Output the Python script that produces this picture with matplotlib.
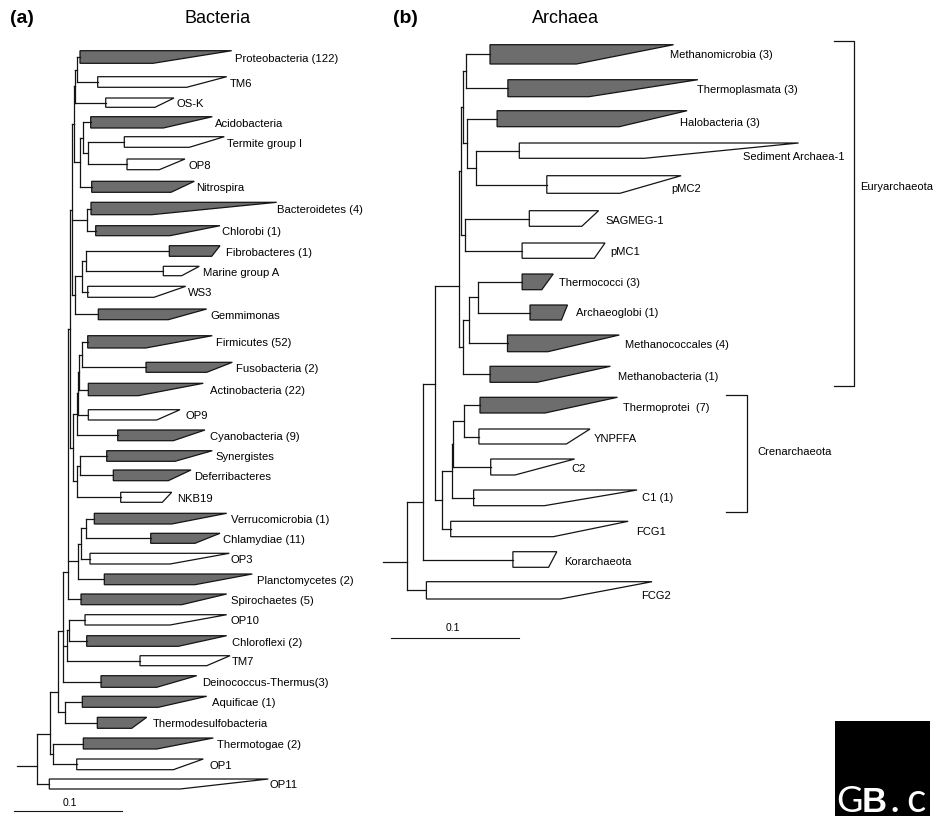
import matplotlib
matplotlib.use("Agg")
import matplotlib.pyplot as plt
from matplotlib.patches import Polygon, Rectangle
from matplotlib.collections import LineCollection

plt.rcParams['font.family'] = ['Liberation Sans', 'DejaVu Sans']

# ---------------- Bacteria data ----------------
bac_names = ["Proteobacteria (122)", "TM6", "OS-K", "Acidobacteria", "Termite group I", "OP8",
             "Nitrospira", "Bacteroidetes (4)", "Chlorobi (1)", "Fibrobacteres (1)", "Marine group A",
             "WS3", "Gemmimonas", "Firmicutes (52)", "Fusobacteria (2)", "Actinobacteria (22)", "OP9",
             "Cyanobacteria (9)", "Synergistes", "Deferribacteres", "NKB19", "Verrucomicrobia (1)",
             "Chlamydiae (11)", "OP3", "Planctomycetes (2)", "Spirochaetes (5)", "OP10",
             "Chloroflexi (2)", "TM7", "Deinococcus-Thermus(3)", "Aquificae (1)",
             "Thermodesulfobacteria", "Thermotogae (2)", "OP1", "OP11"]
bac_filled = [1, 0, 0, 1, 0, 0, 1, 1, 1, 1, 0, 0, 1, 1, 1, 1, 0, 1, 1, 1, 0, 1, 1, 0, 1, 1, 0, 1, 0, 1, 1, 1, 1, 0, 0]
bac_base = [80, 97.7, 105.7, 90.7, 124.3, 127, 91.7, 91, 95.7, 169.3, 163.3, 87.7, 98.3, 87.7, 146, 88.3,
            88.3, 117.7, 106.7, 113.3, 120.7, 94.3, 150.7, 90, 104.3, 81, 85, 86.7, 140, 101, 82.3, 97.3,
            83.3, 76.7, 49.3]
bac_tip_top = [231.7, 226.7, 174, 212.3, 224.3, 185, 194.3, 276.7, 220, 220, 199.3, 185.7, 206.7, 212.3,
               232.3, 203.3, 180, 205, 212.3, 191, 171.7, 226.7, 220, 229.3, 252.3, 226.7, 226.7, 226.7,
               230, 196.7, 206.7, 146.7, 213.3, 203.3, 268.3]
bac_tip_bot = [153, 186.7, 155, 163.3, 189.3, 159.3, 171, 151.7, 170, 211.7, 181.7, 154, 168.3, 145.7,
               206.7, 138.3, 156.7, 173.3, 175, 168.3, 162.3, 171.7, 195, 170, 195, 181.7, 170, 178.3,
               206.7, 156.7, 158.3, 131.7, 156.7, 173.3, 180]
bac_y_top = [51.7, 77.7, 99, 117.7, 137.7, 160, 182.3, 203.3, 226.7, 246.7, 267.3, 287.3, 310, 336.7,
             363.3, 384.3, 410.7, 431, 451.7, 471, 493.3, 514.3, 534.3, 554.3, 575, 595, 615.7, 636.7,
             656.7, 676.7, 697.3, 718.3, 739, 760, 780]
bac_y_bot = [64.3, 88.3, 108.3, 129, 148.3, 170.7, 193.3, 215.7, 236.7, 257.3, 276.7, 298.3, 320.7, 349,
             373.3, 396.7, 421, 441.7, 462.3, 481.7, 503.3, 525, 544.3, 565, 585.7, 605.7, 626, 647.3,
             666.7, 688.3, 708.3, 729.3, 750, 770.7, 790]

# tree topology: (node depth, children[, attach fraction]); ints are clade indices
T1 = (76.7, [0, 1]); T2 = (75.0, [T1, 2]); TO = (88.3, [4, 5]); AT = (82.7, [3, TO])
AN = (80.0, [AT, 6]); T4 = (74.0, [T2, AN]); BC = (86.7, [7, 8]); FM = (86.0, [9, 10])
FMW = (81.7, [FM, 11]); FMWG = (75.0, [FMW, 12]); TOP = (72.3, [T4, BC, FMWG])
FF = (81.7, [13, 14]); FFA = (79.0, [FF, 15]); FFAO = (78.3, [FFA, 16]); FFAOC = (76.7, [FFAO, 17])
SD = (80.0, [18, 19]); SDN = (76.7, [SD, 20]); MID = (73.3, [FFAOC, SDN]); S1 = (70.0, [TOP, MID])
VC = (86.0, [21, 22]); VCO = (81.0, [VC, 23]); VCOP = (78.3, [VCO, 24]); S2 = (67.7, [S1, VCOP, 25], 0.9)
OC = (69.3, [26, 27]); OCT = (67.3, [OC, 28]); U = (63.3, [S2, OCT, 29], 0.54)
AQT = (65.0, [30, 31]); G2 = (58.3, [U, AQT], 0.75); TO1 = (53.3, [32, 33])
G1 = (50.0, [G2, TO1], 0.68)
bac_tree = (36.7, [G1, 34], 0.64)
bac_root_stub = 16.7

# ---------------- Archaea data ----------------
arc_names = ["Methanomicrobia (3)", "Thermoplasmata (3)", "Halobacteria (3)", "Sediment Archaea-1", "pMC2",
             "SAGMEG-1", "pMC1", "Thermococci (3)", "Archaeoglobi (1)", "Methanococcales (4)",
             "Methanobacteria (1)", "Thermoprotei  (7)", "YNPFFA", "C2", "C1 (1)", "FCG1", "Korarchaeota", "FCG2"]
arc_filled = [1, 1, 1, 0, 0, 0, 0, 1, 1, 1, 1, 1, 0, 0, 0, 0, 0, 0]
arc_base = [490, 507.9, 497.1, 519.3, 546.8, 529.3, 522.1, 522.1, 530, 507.5, 490, 480, 478.9, 490.7,
            473.6, 450.7, 512.9, 426.4]
arc_tip_top = [673.6, 697.9, 687.1, 798.6, 681.1, 598.6, 605, 553.2, 567.5, 619.3, 610.4, 617.5, 590,
               574.6, 637.1, 628.2, 556.8, 652.1]
arc_tip_bot = [576.4, 588.9, 619.3, 644.3, 620, 581.8, 594.3, 541.8, 561.4, 547.9, 537.1, 545, 566.4,
               515, 544.3, 553.2, 548.6, 560.4]
arc_y_top = [45.7, 80.7, 111.7, 144, 176.7, 211.7, 244, 275, 306, 336, 367.3, 398.3, 430, 460, 491,
             522.3, 552.7, 582.7]
arc_y_bot = [65, 97.7, 127.7, 159.3, 194.3, 227.3, 259.3, 290.7, 321, 352.7, 383.3, 414, 445, 476,
             506.7, 537.7, 568.3, 600]

MT = (466.0, [0, 1]); SP = (475.7, [3, 4]); HSP = (467.3, [2, SP]); MH = (462.7, [MT, HSP])
SGP = (465.3, [5, 6]); E1 = (461.0, [MH, SGP]); TA = (478.3, [7, 8]); TAM = (469.0, [TA, 9])
TAMB = (462.7, [TAM, 10]); EURY = (459.0, [E1, TAMB], 0.65)
TY = (464.0, [11, 12]); TYC2 = (453.3, [TY, 13]); CREN = (451.7, [TYC2, 14]); CF = (441.7, [CREN, 15])
EC = (435.0, [EURY, CF], 0.46); ECK = (422.7, [EC, 16], 0.67)
arc_tree = (406.7, [ECK, 17], 0.68)
arc_root_stub = 383.3

# label placement (layout)
bac_label_x = [235, 230, 176.7, 215, 227.3, 188.3, 196, 277.3, 221.7, 226, 203.3, 187.7, 210, 216, 236,
               210, 185, 210, 215, 194, 176.7, 230.7, 223.3, 230.7, 257.3, 230.7, 230.7, 231.7, 231.7,
               201.7, 212.3, 152.3, 217.3, 209, 270]
arc_label_x = [670, 696.8, 680, 743.2, 671.1, 605, 610.4, 559.3, 575.7, 624.6, 617.5, 622.9, 593.6,
               571.8, 642.5, 636.4, 563.9, 640.7]
arc_label_y = [55, 90, 122.7, 157.3, 189.3, 220.7, 251.7, 282.7, 313.3, 345, 376.7, 408.3, 439, 469.3,
               498.3, 532.3, 561.7, 595.7]

FILL = '#6d6d6d'
LINE = '#141414'
TXT = '#000000'

fig = plt.figure(figsize=(9.5, 8.37), dpi=100)
ax = fig.add_axes([0, 0, 1, 1])
ax.set_xlim(0, 950)
ax.set_ylim(837, 0)
ax.axis('off')


def layout(node, base, yc, segs):
    if isinstance(node, int):
        return yc[node], base[node]
    x, kids = node[0], node[1]
    frac = node[2] if len(node) > 2 else 0.5
    ys = []
    for k in kids:
        ky, kx = layout(k, base, yc, segs)
        segs.append([(x, ky), (kx, ky)])
        ys.append(ky)
    y0, y1 = min(ys), max(ys)
    segs.append([(x, y0), (x, y1)])
    return y0 + frac * (y1 - y0), x


def draw_tree(tree, stub, base, tt, tb, yt, yb, filled):
    yc = [(a + b) / 2 for a, b in zip(yt, yb)]
    segs = []
    ry, rx = layout(tree, base, yc, segs)
    segs.append([(stub, ry), (rx, ry)])
    ax.add_collection(LineCollection(segs, colors=LINE, linewidths=0.9, capstyle='projecting'))
    for i in range(len(base)):
        poly = Polygon([(base[i], yt[i]), (tt[i], yt[i]), (tb[i], yb[i]), (base[i], yb[i])],
                       closed=True, facecolor=FILL if filled[i] else 'white',
                       edgecolor=LINE, linewidth=0.9, joinstyle='miter')
        ax.add_patch(poly)
    return yc


bac_yc = draw_tree(bac_tree, bac_root_stub, bac_base, bac_tip_top, bac_tip_bot,
                   bac_y_top, bac_y_bot, bac_filled)
for i, n in enumerate(bac_names):
    ax.text(bac_label_x[i], bac_yc[i] + 0.5, n, fontsize=8.1, ha='left', va='center', color=TXT)

draw_tree(arc_tree, arc_root_stub, arc_base, arc_tip_top, arc_tip_bot, arc_y_top, arc_y_bot, arc_filled)
for i, n in enumerate(arc_names):
    ax.text(arc_label_x[i], arc_label_y[i], n, fontsize=8, ha='left', va='center', color=TXT)


def bracket(x, x0, y0, y1, label, lx, ly):
    ax.plot([x0, x, x, x0], [y0, y0, y1, y1], color=LINE, lw=0.9)
    ax.text(lx, ly, label, fontsize=8, ha='left', va='center', color=TXT)


bracket(854.3, 833.6, 41.7, 386.7, "Euryarchaeota", 860.4, 186.7)
bracket(746.8, 725.7, 395.7, 513.3, "Crenarchaeota", 757.5, 451.7)

# scale bars
ax.plot([14, 121.7], [811.7, 811.7], color=LINE, lw=0.8)
ax.text(70, 803, "0.1", fontsize=7.5, ha='center', va='center', color=TXT)
ax.plot([391.4, 519.3], [639, 639], color=LINE, lw=0.8)
ax.text(453.2, 628.3, "0.1", fontsize=7.5, ha='center', va='center', color=TXT)

# titles
ax.text(10, 18, "(a)", fontsize=14, fontweight='bold', ha='left', va='center')
ax.text(218, 18, "Bacteria", fontsize=13, ha='center', va='center')
ax.text(393, 18, "(b)", fontsize=14, fontweight='bold', ha='left', va='center')
ax.text(565, 18, "Archaea", fontsize=13, ha='center', va='center')

# logo
ax.add_patch(Rectangle((835, 722), 95, 95, facecolor='black', edgecolor='none'))
ax.text(836, 812, "G", fontsize=26, color='white', fontweight='normal', ha='left', va='baseline',
        family=['Lato', 'DejaVu Sans'])
ax.text(862, 812, "B", fontsize=25, color='white', fontweight='bold', ha='left', va='baseline')
ax.text(891, 812, ".", fontsize=25, color='white', fontweight='bold', ha='left', va='baseline',
        family=['Lato', 'DejaVu Sans'])
ax.text(906, 812, "c", fontsize=29, color='white', fontweight='normal', ha='left', va='baseline',
        family=['Lato', 'DejaVu Sans'])

fig.savefig("out.png", dpi=100)
